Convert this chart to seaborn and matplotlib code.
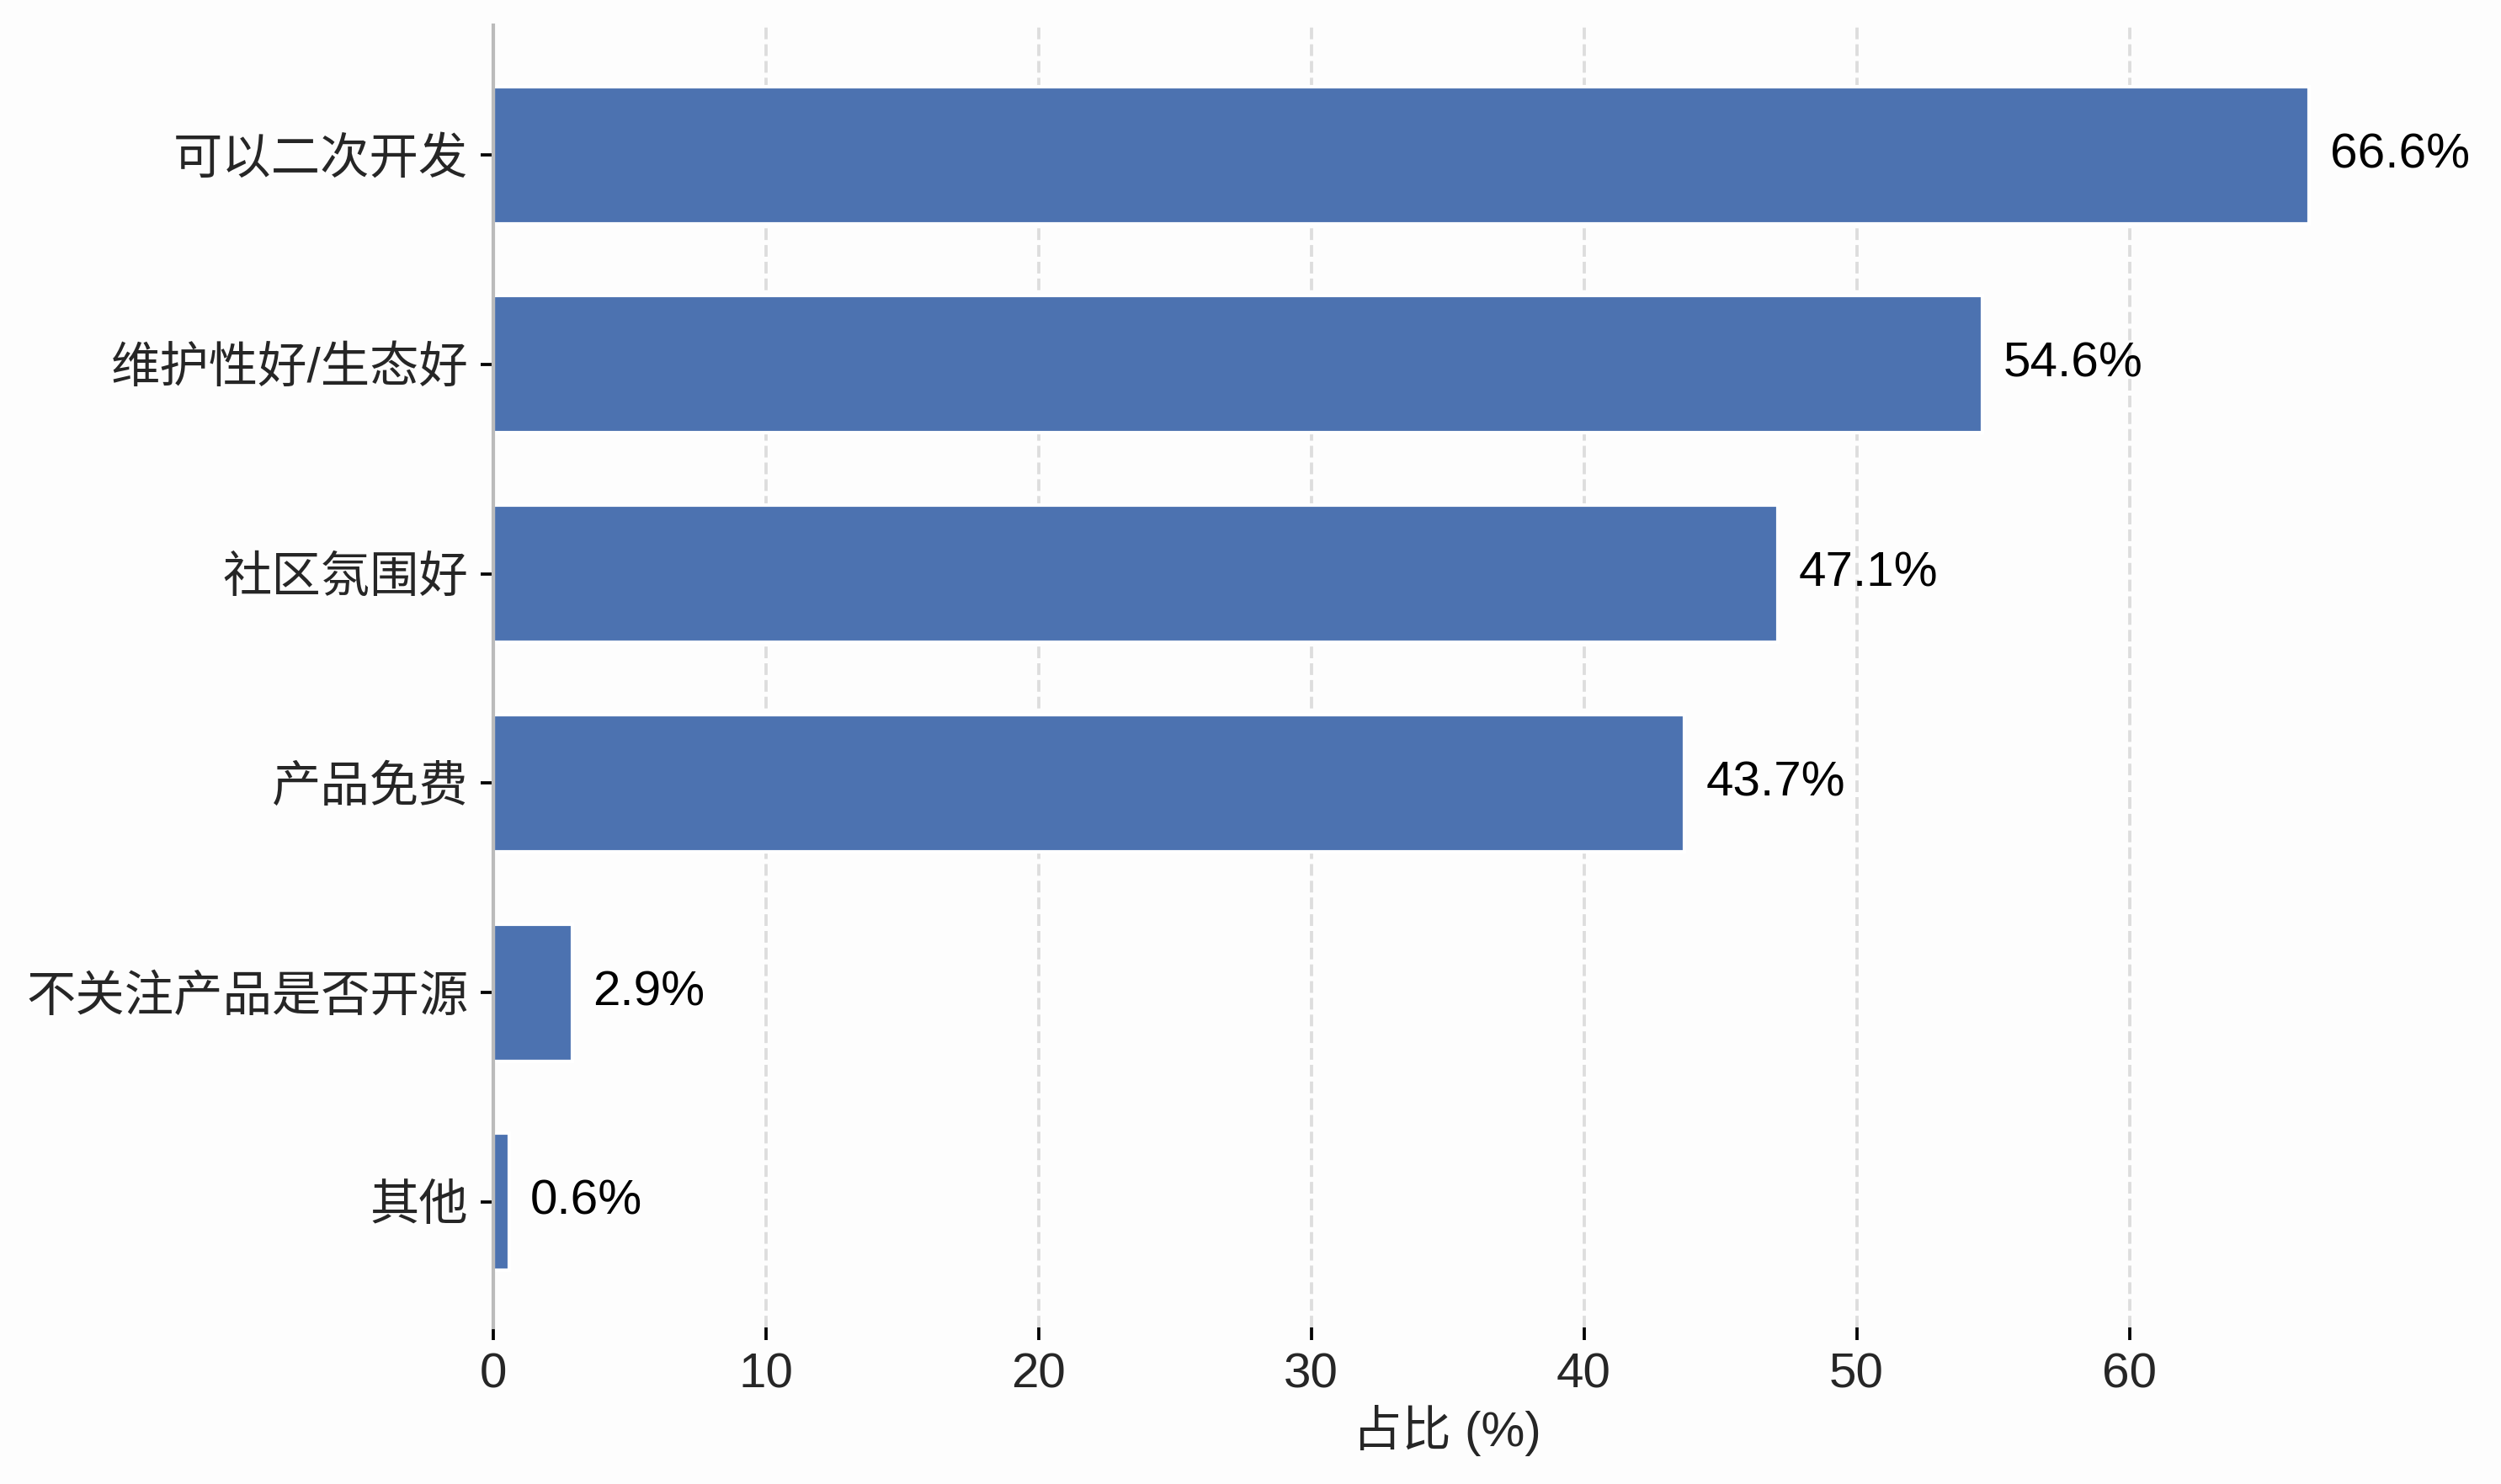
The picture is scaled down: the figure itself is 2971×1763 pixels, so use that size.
import matplotlib
matplotlib.use('Agg')
import matplotlib.pyplot as plt
import seaborn as sns
import pandas as pd

categories = ['可以二次开发', '维护性好/生态好', '社区氛围好', '产品免费', '不关注产品是否开源', '其他']
shares = [66.6, 54.6, 47.1, 43.7, 2.9, 0.6]
BAR_COLOR = '#4c72b0'


def main():
    sns.set_style('white')
    plt.rcParams['font.family'] = ['Liberation Sans', 'Noto Sans CJK SC', 'DejaVu Sans']
    plt.rcParams['axes.unicode_minus'] = False

    df = pd.DataFrame({'reason': categories, 'share': shares})

    fig = plt.figure(figsize=(2971 / 300, 1763 / 300), dpi=300, facecolor='#fdfdfd')
    ax = fig.add_axes([0.1971, 0.1055, 0.7626, 0.8775])
    ax.set_facecolor('#fdfdfd')

    sns.barplot(data=df, x='share', y='reason', orient='h', color=BAR_COLOR,
                saturation=1, width=0.655, ax=ax)

    # value labels
    for p, v in zip(ax.patches, shares):
        ax.annotate(f'{v}%', (p.get_width(), p.get_y() + p.get_height() / 2),
                    xytext=(6, 0), textcoords='offset points',
                    va='center', ha='left', fontsize=14, color='black')

    ax.set_xlim(0, max(shares) * 1.05)
    ax.set_ylim(5.6, -0.62)
    ax.set_xticks([0, 10, 20, 30, 40, 50, 60])

    ax.grid(axis='x', linestyle='--', color='#dddddd', linewidth=0.9)
    ax.grid(axis='y', visible=False)
    ax.set_axisbelow(True)

    for s in ['top', 'right', 'bottom']:
        ax.spines[s].set_visible(False)
    ax.spines['left'].set_color('#bbbbbb')
    ax.spines['left'].set_linewidth(1.0)

    ax.tick_params(axis='both', which='major', labelsize=14, length=3.5,
                   width=0.9, color='black', bottom=True, left=True)
    ax.set_xlabel('占比 (%)', fontsize=14, labelpad=2)
    ax.set_ylabel('')

    fig.savefig('out.png', dpi=300, facecolor=fig.get_facecolor())
    plt.close(fig)


if __name__ == '__main__':
    main()
